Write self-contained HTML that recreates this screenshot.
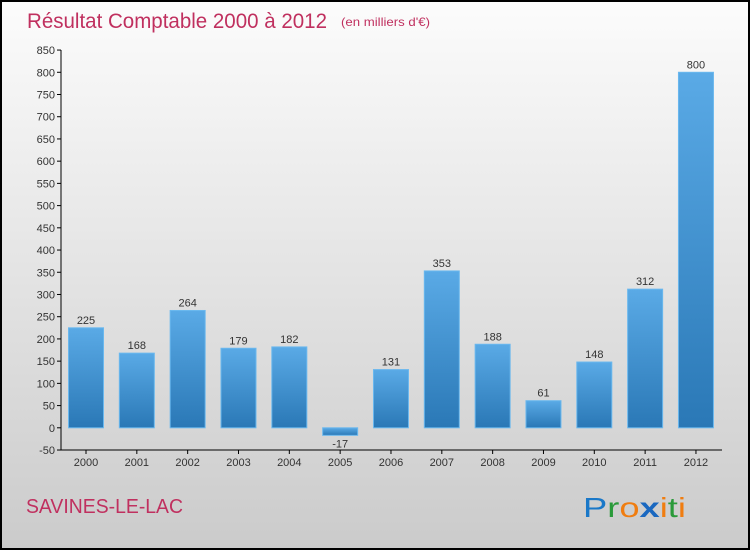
<!DOCTYPE html>
<html><head><meta charset="utf-8"><style>
body{margin:0}
#c{width:750px;height:550px;position:relative;font-family:"DejaVu Sans","Liberation Sans",sans-serif;}
</style></head><body>
<div id="c">
<svg id="s" width="750" height="550" xmlns="http://www.w3.org/2000/svg">
<defs>
<linearGradient id="bg" x1="0" y1="0" x2="0" y2="1"><stop offset="0" stop-color="#fcfcfc"/><stop offset="1" stop-color="#cbcbcb"/></linearGradient>
<linearGradient id="bar" x1="0" y1="0" x2="0" y2="1"><stop offset="0" stop-color="#5aaae6"/><stop offset="1" stop-color="#2a78b6"/></linearGradient>
</defs>
<rect x="1" y="1" width="748" height="548" fill="url(#bg)" stroke="#000" stroke-width="2"/>
<text x="27" y="28" font-size="21" fill="#c0305f" textLength="300" lengthAdjust="spacingAndGlyphs" font-family="'Liberation Sans',sans-serif">Résultat Comptable 2000 à 2012</text>
<text x="341" y="26" font-size="12" fill="#c0305f" textLength="89" lengthAdjust="spacingAndGlyphs" font-family="'Liberation Sans',sans-serif">(en milliers d'€)</text>
<text x="26" y="513" font-size="20" fill="#c0305f" textLength="157" lengthAdjust="spacingAndGlyphs" font-family="'Liberation Sans',sans-serif">SAVINES-LE-LAC</text>
<g font-size="28" font-family="'Liberation Sans',sans-serif">
<text x="583" y="517" textLength="103" lengthAdjust="spacingAndGlyphs"><tspan fill="#1a78c8">P</tspan><tspan fill="#2a9a3a">r</tspan><tspan fill="#f07d10">o</tspan><tspan fill="#1a68c0" font-weight="bold">x</tspan><tspan fill="#f07d10">i</tspan><tspan fill="#2a9a3a">t</tspan><tspan fill="#f07d10">i</tspan></text>
</g>
<g id="axes"></g><g id="bars"></g>
</svg>
</div>
<script>
const categories=["2000","2001","2002","2003","2004","2005","2006","2007","2008","2009","2010","2011","2012"];
const values=[225,168,264,179,182,-17,131,353,188,61,148,312,800];
const yTicks=[-50,0,50,100,150,200,250,300,350,400,450,500,550,600,650,700,750,800,850];
const NS="http://www.w3.org/2000/svg";
const y=v=>427.8-v*0.4444;
const x=i=>86+i*50.83;
function mk(t,a,p){const e=document.createElementNS(NS,t);for(const k in a)e.setAttribute(k,a[k]);p.appendChild(e);return e;}
const ax=document.getElementById('axes'),bs=document.getElementById('bars');
const yl=mk('line',{x1:61,y1:50,x2:61,y2:450,stroke:'#000','stroke-width':1},ax);

const xl=mk('line',{x1:61,y1:450,x2:722,y2:450,stroke:'#000','stroke-width':1},ax);

yTicks.forEach(v=>{
 mk('line',{x1:57,x2:61,y1:y(v),y2:y(v),stroke:'#000'},ax);
 const t=mk('text',{x:55,y:y(v)+4,'text-anchor':'end','font-size':11,fill:'#333','font-family':"'Liberation Sans',sans-serif"},ax);t.textContent=v;
 
});
categories.forEach((c,i)=>{
 mk('line',{x1:x(i),x2:x(i),y1:450,y2:454,stroke:'#000'},ax);
 const t=mk('text',{x:x(i),y:466,'text-anchor':'middle','font-size':11,fill:'#333','font-family':"'Liberation Sans',sans-serif"},ax);t.textContent=c;
 
 const v=values[i],top=Math.min(y(v),y(0)),h=Math.abs(y(v)-y(0));
 const r=mk('rect',{x:x(i)-17.5,y:top,width:35,height:Math.max(h,1),fill:'url(#bar)',stroke:'#6ab8ee','stroke-width':1},bs);
 
 const l=mk('text',{x:x(i),y:v>=0?y(v)-4:y(v)+12,'text-anchor':'middle','font-size':11,fill:'#333','font-family':"'Liberation Sans',sans-serif"},bs);l.textContent=v;
 
});
</script>
</body></html>
